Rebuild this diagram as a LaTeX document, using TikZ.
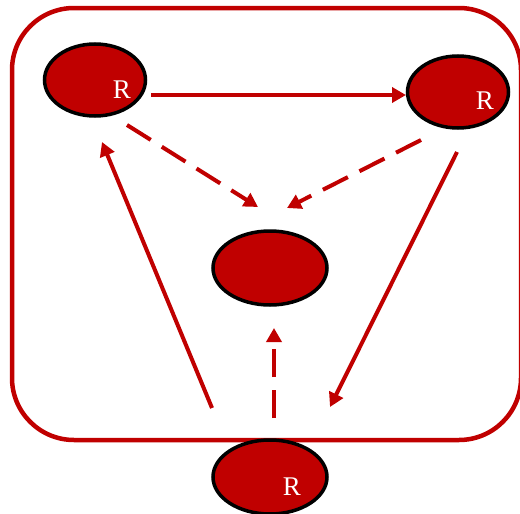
\documentclass[tikz,border=0pt]{standalone}
\usepackage{fontspec}
\setmainfont{Liberation Serif}
\usetikzlibrary{shapes.geometric, arrows.meta, positioning, calc}
\definecolor{DeepRed}{HTML}{C00000}

\begin{document}
\begin{tikzpicture}[x=1pt, y=-1pt,
    blob/.style={ellipse, draw=black, line width=3.5pt, fill=DeepRed,
      minimum width=101pt, minimum height=72pt, inner sep=0pt},
    rtag/.style={text=white, inner sep=0pt, font=\fontsize{27}{27}\selectfont},
    flow/.style={draw=DeepRed, line width=4pt,
      -{Triangle[length=14pt, width=15pt]}},
    dflow/.style={flow, dash pattern=on 28pt off 13pt}]
  \useasboundingbox (0,0) rectangle (520,514);

  % frame
  \draw[DeepRed, line width=4.5pt, rounded corners=62pt] (12,8) rectangle (521,440);

  % states
  \node[blob] (tl) at (95,80) {};
  \node[blob] (tr) at (458,92) {};
  \node[blob, minimum width=114pt, minimum height=74pt] (mid) at (270,268) {};
  \node[blob, minimum width=114pt, minimum height=74pt] (bot) at (270,477) {};

  \node[rtag] (tlR) at ($(tl)+(27,10)$) {R};
  \node[rtag] (trR) at ($(tr)+(27,9)$) {R};
  \node[rtag] (botR) at ($(bot)+(22,10)$) {R};

  % transitions
  \draw[flow] ($(tl)+(56,15)$) -- ($(tr)+(-52,3)$);
  \draw[dflow] ($(tl)+(32,45)$) -- ($(mid)+(-12,-61)$);
  \draw[dflow] ($(tr)+(-37,48)$) -- ($(mid)+(17,-60)$);
  \draw[flow] ($(bot)+(-58,-69)$) -- ($(tl)+(7,62)$);
  \draw[flow] ($(tr)+(-1,60)$) -- ($(bot)+(60,-70)$);
  \draw[dflow] ($(bot)+(4,-59)$) -- ($(mid)+(4,60)$);
\end{tikzpicture}
\end{document}
